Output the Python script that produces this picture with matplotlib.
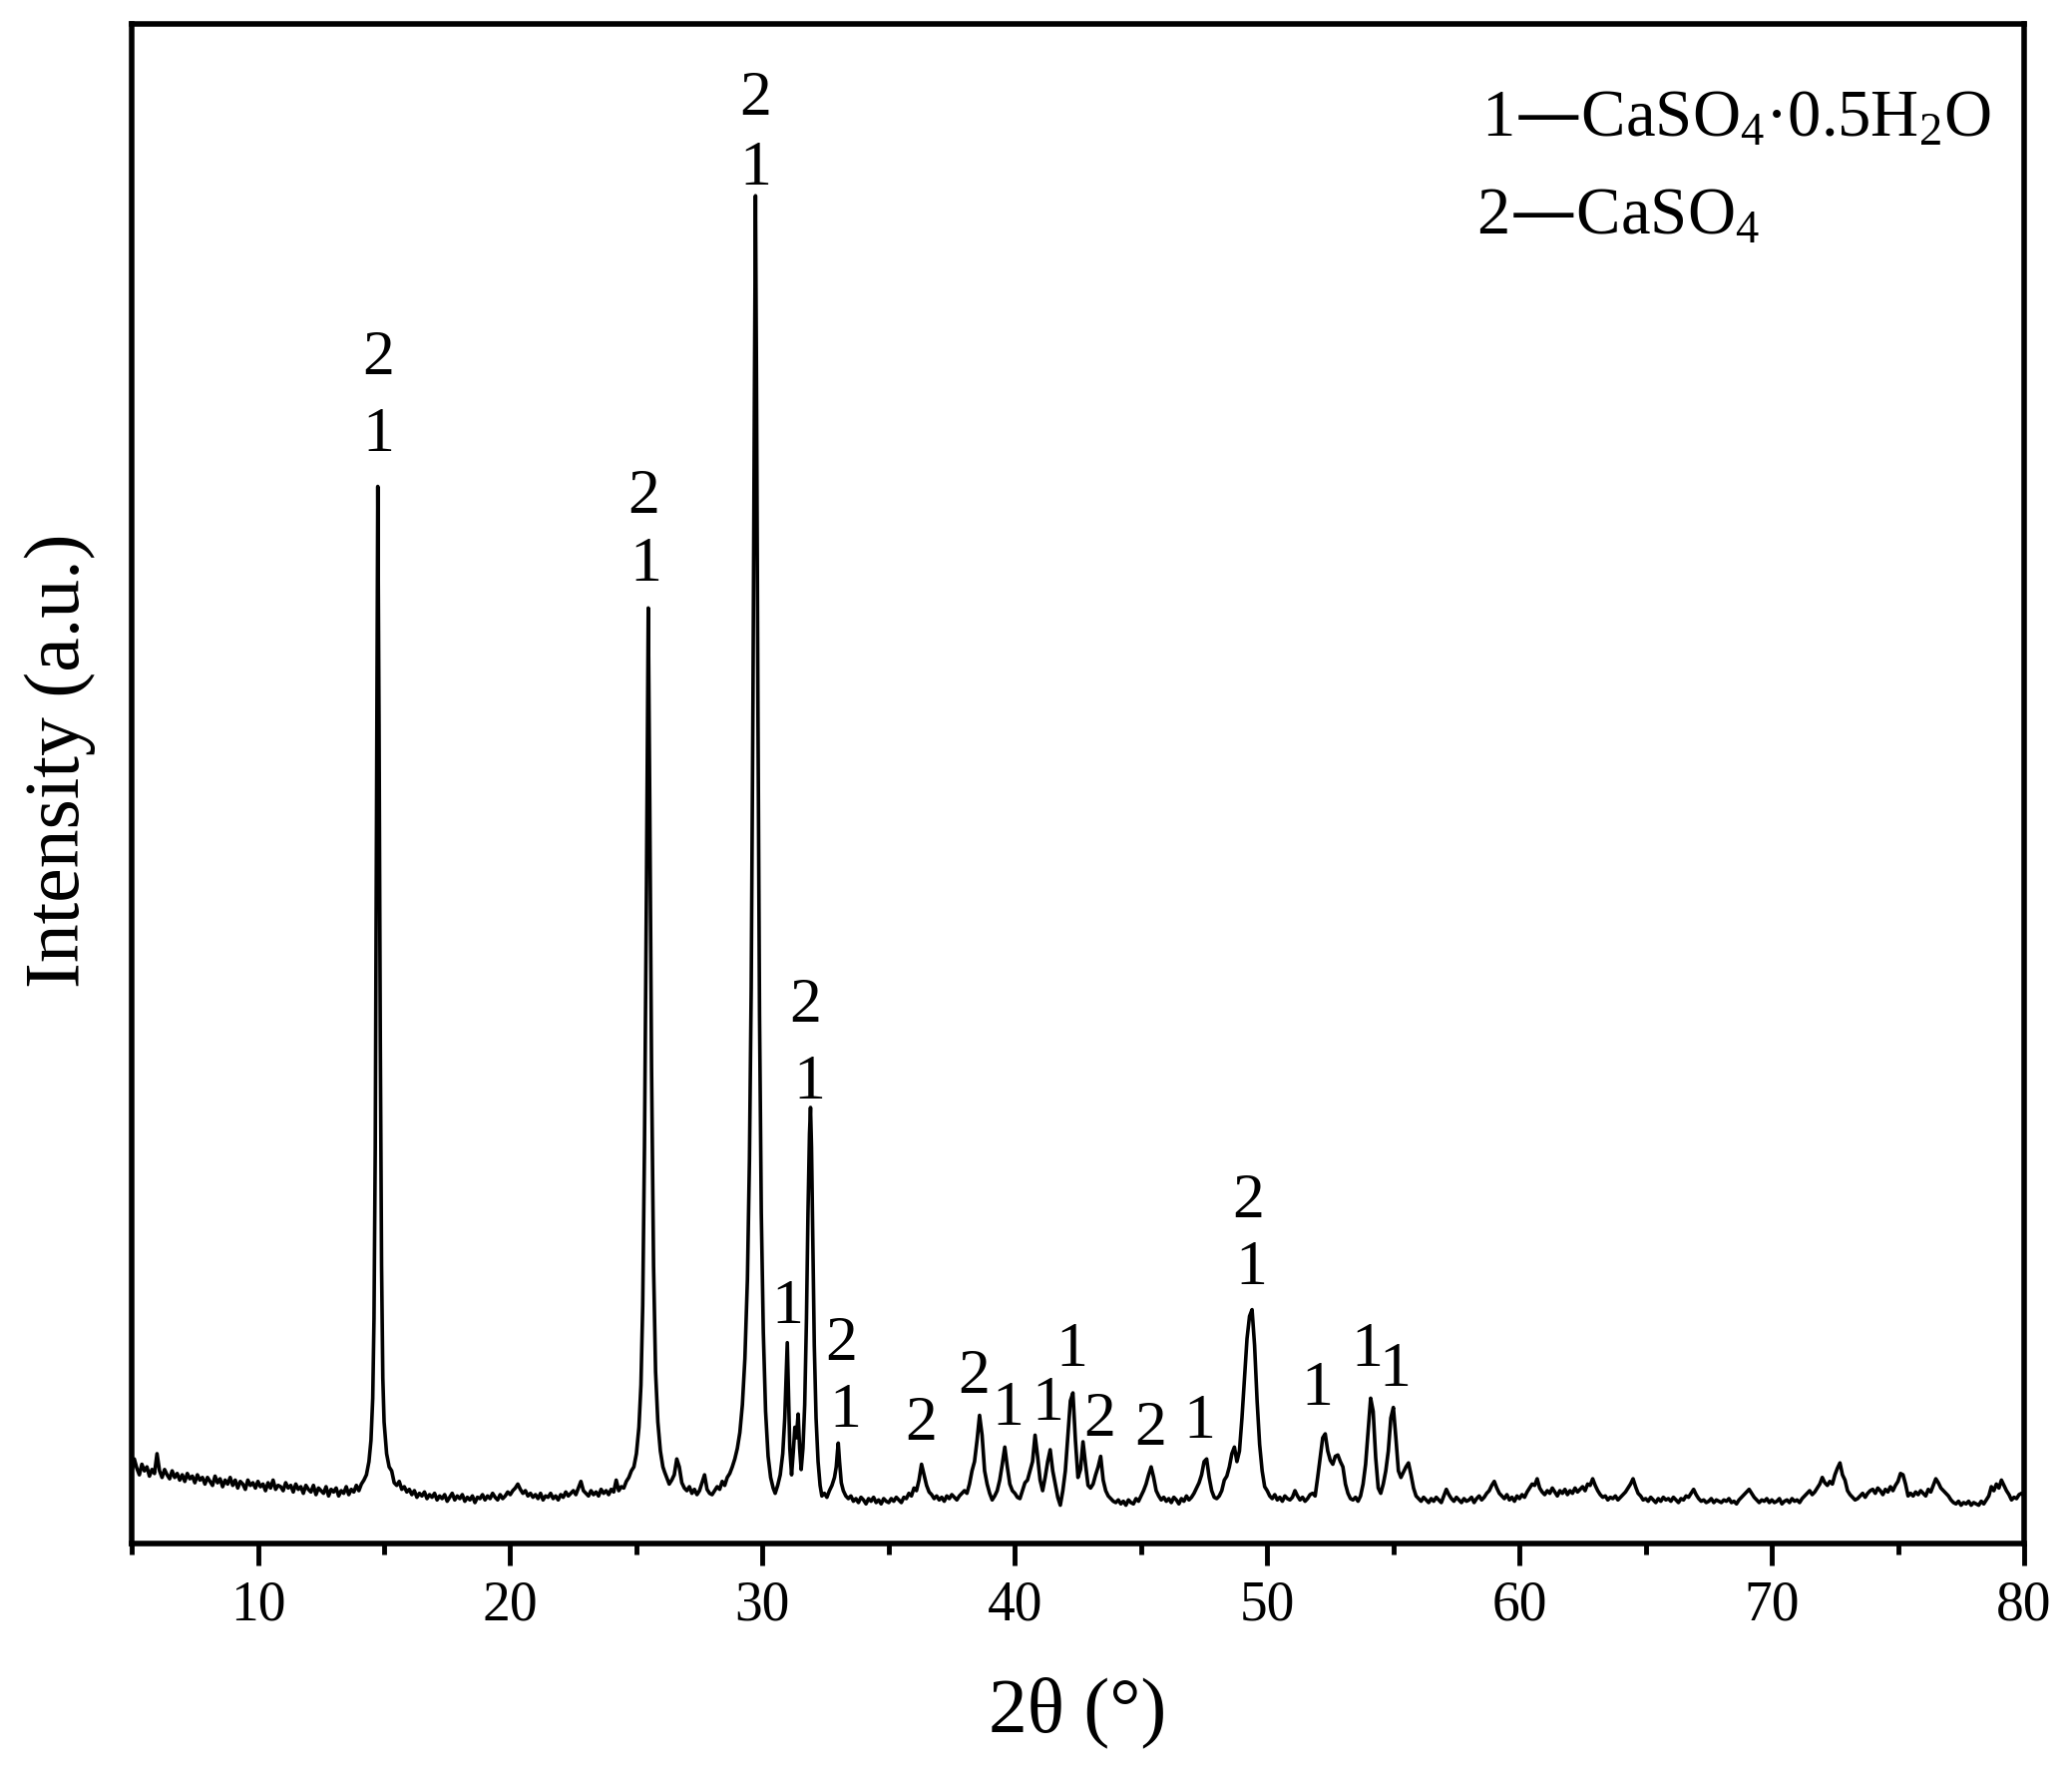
import numpy as np
import matplotlib.pyplot as plt

plt.rcParams["font.family"] = ["Liberation Serif", "DejaVu Serif"]
plt.rcParams["mathtext.default"] = "regular"

# XRD trace, coarse part read every 0.1 deg from 5 to 80 (one row per degree)
bg_start = 5.0
bg_step = 0.1
bg_intensity = [
    55, 64, 57, 52, 60, 55, 58, 51, 56, 53,  # 5
    68, 55, 50, 56, 52, 49, 55, 50, 53, 48,  # 6
    52, 47, 53, 49, 51, 46, 52, 48, 50, 45,  # 7
    50, 47, 44, 51, 46, 49, 43, 48, 45, 50,  # 8
    44, 48, 42, 47, 45, 41, 48, 44, 46, 42,  # 9
    47, 43, 45, 40, 46, 42, 48, 41, 44, 43,  # 10
    40, 46, 42, 44, 39, 45, 41, 43, 38, 44,  # 11
    41, 39, 44, 37, 42, 40, 38, 43, 36, 41,  # 12
    39, 42, 36, 40, 38, 43, 37, 41, 39, 44,  # 13
    40, 45, 48, 55, 70, 130, 300, 800, 400, 140,  # 14
    80, 62, 55, 52, 46, 44, 47, 41, 43, 39,  # 15
    41, 37, 40, 35, 38, 36, 39, 34, 37, 35,  # 16
    38, 33, 36, 34, 37, 32, 35, 38, 33, 36,  # 17
    34, 37, 32, 35, 33, 36, 31, 35, 34, 37,  # 18
    33, 36, 34, 38, 35, 33, 37, 34, 36, 39,  # 19
    37, 40, 42, 45, 41, 38, 40, 36, 38, 35,  # 20
    37, 34, 38, 33, 36, 35, 38, 34, 36, 33,  # 21
    37, 35, 39, 36, 38, 40, 37, 42, 47, 40,  # 22
    38, 36, 40, 37, 39, 36, 41, 38, 40, 37,  # 23
    41, 39, 48, 40, 43, 42, 47, 50, 55, 57,  # 24
    75, 100, 160, 280, 500, 700, 450, 240, 130, 85,  # 25
    65, 55, 50, 45, 48, 52, 64, 58, 46, 42,  # 26
    40, 43, 38, 41, 37, 40, 46, 52, 41, 38,  # 27
    37, 40, 43, 41, 47, 44, 50, 53, 58, 62,  # 28
    70, 85, 110, 150, 220, 360, 600, 1000, 550, 300,  # 29
    160, 95, 65, 48, 40, 38, 45, 55, 80, 150,  # 30
    110, 55, 80, 95, 70, 56, 90, 150, 280, 330,  # 31
    170, 62, 38, 36, 37, 38, 42, 48, 60, 76,  # 32
    50, 40, 35, 34, 33, 36, 32, 34, 31, 35,  # 33
    33, 30, 34, 32, 35, 31, 33, 30, 34, 32,  # 34
    31, 34, 32, 35, 33, 31, 35, 34, 38, 36,  # 35
    42, 40, 48, 60, 52, 44, 39, 37, 34, 36,  # 36
    33, 35, 32, 36, 34, 37, 35, 33, 36, 38,  # 37
    40, 38, 45, 55, 62, 78, 97, 82, 55, 45,  # 38
    38, 33, 36, 40, 48, 60, 73, 58, 45, 40,  # 39
    38, 35, 34, 40, 46, 48, 55, 62, 82, 66,  # 40
    48, 40, 50, 62, 71, 55, 45, 35, 29, 40,  # 41
    55, 82, 108, 114, 78, 50, 56, 77, 60, 44,  # 42
    42, 45, 52, 58, 66, 48, 40, 36, 34, 32,  # 43
    31, 33, 30, 32, 29, 33, 31, 30, 34, 32,  # 44
    36, 40, 45, 52, 58, 50, 40, 36, 33, 35,  # 45
    32, 34, 31, 35, 33, 30, 34, 32, 36, 33,  # 46
    35, 38, 42, 46, 52, 62, 64, 50, 40, 35,  # 47
    34, 36, 40, 48, 51, 58, 68, 73, 62, 70,  # 48
    95, 125, 155, 172, 177, 150, 108, 75, 55, 43,  # 49
    40, 36, 34, 37, 33, 35, 32, 36, 34, 33,  # 50
    35, 40, 36, 33, 35, 32, 34, 37, 38, 36,  # 51
    50, 65, 80, 83, 70, 63, 60, 66, 67, 62,  # 52
    58, 45, 38, 34, 33, 35, 32, 36, 45, 60,  # 53
    85, 110, 100, 65, 42, 38, 45, 55, 70, 95,  # 54
    103, 80, 55, 50, 54, 58, 61, 52, 42, 36,  # 55
    34, 32, 35, 33, 31, 34, 32, 35, 33, 31,  # 56
    36, 41, 37, 34, 32, 35, 33, 31, 34, 32,  # 57
    33, 35, 31, 34, 36, 33, 35, 38, 40, 44,  # 58
    47, 42, 38, 36, 34, 37, 33, 35, 32, 36,  # 59
    34, 37, 35, 39, 42, 45, 44, 49, 42, 39,  # 60
    37, 40, 38, 42, 39, 36, 40, 38, 41, 37,  # 61
    40, 38, 42, 39, 41, 43, 40, 45, 44, 49,  # 62
    44, 40, 37, 35, 36, 33, 35, 34, 36, 33,  # 63
    35, 37, 39, 42, 45, 49, 43, 38, 36, 33,  # 64
    34, 32, 35, 33, 31, 34, 32, 35, 33, 34,  # 65
    32, 35, 33, 31, 34, 33, 36, 35, 38, 41,  # 66
    37, 34, 32, 33, 31, 32, 34, 31, 33, 32,  # 67
    31, 33, 32, 34, 31, 32, 30, 33, 35, 37,  # 68
    39, 41, 38, 35, 33, 31, 33, 32, 34, 31,  # 69
    33, 31, 32, 34, 30, 32, 33, 31, 34, 32,  # 70
    33, 31, 34, 36, 38, 40, 37, 39, 42, 45,  # 71
    50, 46, 44, 47, 45, 52, 57, 61, 52, 48,  # 72
    40, 37, 35, 33, 34, 36, 38, 35, 38, 40,  # 73
    41, 38, 42, 40, 37, 41, 39, 43, 40, 44,  # 74
    47, 53, 52, 45, 36, 38, 36, 39, 37, 40,  # 75
    38, 36, 41, 39, 44, 49, 46, 42, 40, 38,  # 76
    36, 33, 31, 30, 32, 29, 31, 30, 32, 29,  # 77
    31, 30, 29, 32, 30, 33, 36, 43, 40, 45,  # 78
    42, 48, 44, 40, 37, 33, 35, 34, 37, 38,  # 79
    36,  # 80
]

# the sharp reflections, read finer; they replace the coarse points inside these windows
peak_windows = [(14.25, 15.35), (24.85, 26.15), (28.85, 33.45)]
peak_theta = [
    14.30, 14.40, 14.48, 14.55, 14.60, 14.65, 14.70, 14.75, 14.80, 14.85,
    14.90, 14.95, 15.00, 15.10, 15.20, 15.30,
    24.90, 25.00, 25.10, 25.18, 25.25, 25.32, 25.40, 25.47, 25.53, 25.60,
    25.68, 25.76, 25.85, 25.95, 26.05, 26.12,
    28.90, 29.00, 29.10, 29.20, 29.30, 29.40, 29.48, 29.55, 29.62, 29.68,
    29.72, 29.76, 29.82, 29.88, 29.95, 30.03, 30.12, 30.22, 30.32, 30.42,
    30.50, 30.60, 30.70, 30.80, 30.88, 30.94, 30.98, 31.02, 31.08, 31.15,
    31.22, 31.28, 31.34, 31.41, 31.47, 31.53, 31.60, 31.67, 31.74, 31.80,
    31.86, 31.90, 31.94, 31.99, 32.05, 32.12, 32.20, 32.28, 32.35, 32.45,
    32.55, 32.65, 32.75, 32.85, 32.92, 32.97, 33.00, 33.05, 33.12, 33.20,
    33.30, 33.40,
]
peak_intensity = [
    52, 62, 78, 110, 170, 300, 540, 800, 620, 380,
    210, 125, 92, 68, 58, 55,
    58, 68, 88, 120, 180, 300, 500, 708, 560, 360,
    210, 130, 92, 70, 58, 54,
    64, 72, 84, 105, 140, 200, 290, 420, 640, 880,
    1020, 880, 620, 400, 250, 160, 100, 66, 50, 42,
    38, 44, 52, 68, 95, 130, 152, 120, 72, 52,
    70, 88, 80, 98, 72, 56, 72, 105, 170, 250,
    310, 330, 300, 230, 150, 95, 62, 44, 36, 38,
    35, 40, 44, 50, 58, 70, 76, 62, 46, 40,
    36, 34,
]

# phase marks above the reflections (1 = hemihydrate, 2 = anhydrite)
label_theta = [14.76, 14.76, 25.30, 25.38, 29.72, 29.72, 30.98, 31.71, 31.87,
               33.13, 33.28, 36.27, 38.36, 39.73, 41.30, 42.24, 43.34, 45.38,
               47.32, 49.26, 49.36, 51.98, 53.97, 55.07]
label_height = [896, 838, 791, 740, 1093, 1040, 178, 406, 348,
                150, 100, 90, 125, 101, 105, 146, 93, 86,
                91, 258, 208, 116, 146, 131]
label_text = ["2", "1", "2", "1", "2", "1", "1", "2", "1",
              "2", "1", "2", "2", "1", "1", "1", "2", "2",
              "1", "2", "1", "1", "1", "1"]

legend_lines = [r"1—CaSO$_4$·0.5H$_2$O", r"2—CaSO$_4$"]

assert len(bg_intensity) == 751
assert len(peak_theta) == len(peak_intensity)

bg_theta = bg_start + bg_step * np.arange(len(bg_intensity))
keep = np.ones(len(bg_theta), dtype=bool)
for lo, hi in peak_windows:
    keep &= ~((bg_theta > lo) & (bg_theta < hi))

theta = np.concatenate([bg_theta[keep], peak_theta])
intensity = np.concatenate([np.array(bg_intensity, dtype=float)[keep], peak_intensity])
order = np.argsort(theta)
theta = theta[order]
intensity = intensity[order]

fig = plt.figure(figsize=(20.77, 17.80), dpi=100)
ax = fig.add_axes([0.0636, 0.1309, 0.9133, 0.8556])

ax.plot(theta, intensity, color="black", lw=2.6)

for x, y, t in zip(label_theta, label_height, label_text):
    ax.text(x, y, t, fontsize=46, ha="center", va="center")

ax.text(58.5, 1065, legend_lines[0], fontsize=48, ha="left", va="baseline")
ax.text(58.3, 991, legend_lines[1], fontsize=48, ha="left", va="baseline")

ax.set_xlim(5, 80)
ax.set_ylim(0, 1150)
ax.set_xticks(range(10, 81, 10))
ax.set_xticks(range(5, 80, 10), minor=True)
ax.set_yticks([])
ax.tick_params(axis="x", which="major", direction="out", length=16, width=3.5,
               labelsize=40, pad=10)
ax.tick_params(axis="x", which="minor", direction="out", length=8, width=3.5)
for s in ax.spines.values():
    s.set_linewidth(4)

ax.set_xlabel("2θ (°)", fontsize=56)
ax.set_ylabel("Intensity (a.u.)", fontsize=56)
ax.xaxis.set_label_coords(0.5, -0.088)
ax.yaxis.set_label_coords(-0.019, 0.515)

plt.savefig("out.png", dpi=100)
plt.close()
